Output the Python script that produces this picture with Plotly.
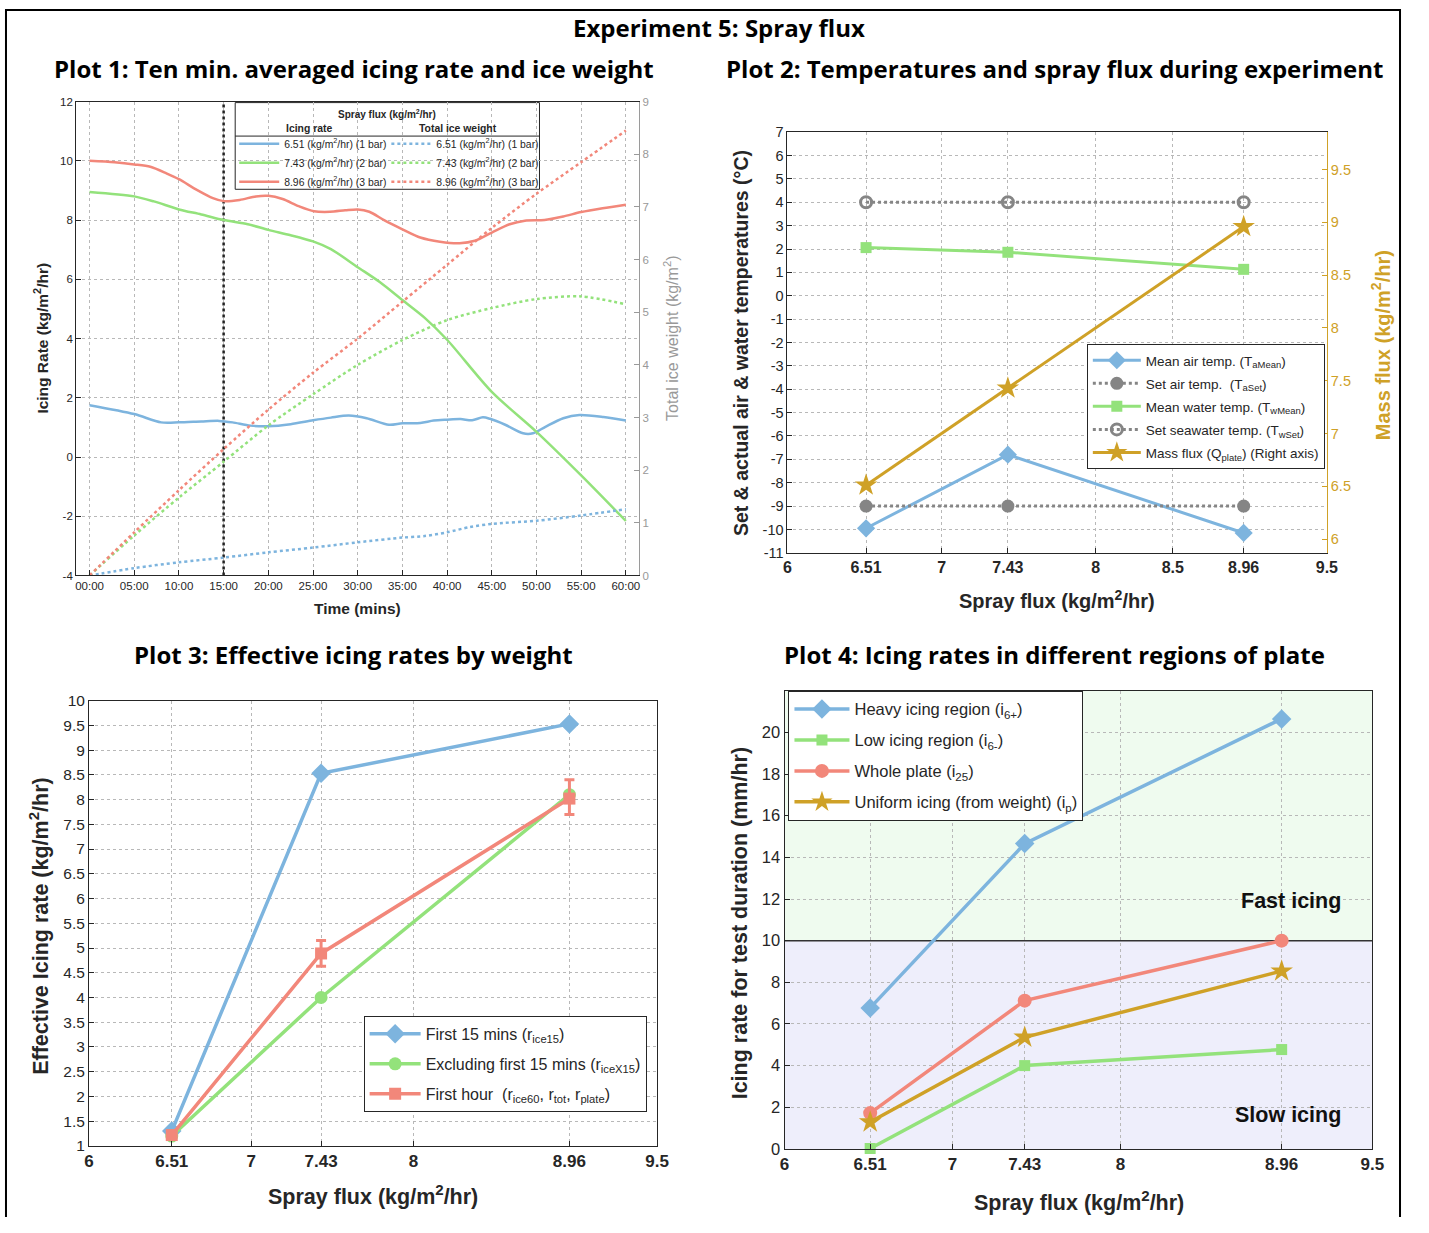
import plotly.graph_objects as go

# ---------------- DATA ----------------
# Plot 1: ten-minute averaged icing rate (kg/m2/hr) against time (min)
t_rate_651 = [0, 5, 8, 10, 12.5, 14.5, 16, 18, 20, 22.5, 25, 27, 29, 31, 33.5, 35, 37, 38.5, 40,
              41.5, 42.8, 44, 44.8, 46.5, 48.5, 49.6, 51, 53, 54.8, 57.5, 60]
rate_651 = [1.75, 1.45, 1.17, 1.17, 1.20, 1.22, 1.17, 1.06, 1.04, 1.11, 1.24, 1.33, 1.40, 1.31, 1.09,
            1.14, 1.15, 1.23, 1.26, 1.28, 1.24, 1.34, 1.29, 1.09, 0.80, 0.80, 1.02, 1.31, 1.42, 1.35, 1.23]
t_rate_743 = [0, 5, 7.2, 10, 12.5, 15, 17.7, 20, 22.5, 25, 27, 30, 32.5, 35, 37.5, 40, 45, 50, 55, 60]
rate_743 = [8.95, 8.8, 8.63, 8.36, 8.19, 8.0, 7.86, 7.67, 7.49, 7.28, 7.02, 6.41, 5.9, 5.3, 4.7, 3.96,
            2.2, 0.85, -0.62, -2.16]
t_rate_896 = [0, 2.8, 5, 6.8, 8.6, 10, 12, 13.8, 15, 16.8, 18.6, 20, 21.6, 23.4, 25.1, 26.9, 28.6, 30,
              31.3, 33, 35, 37, 39.2, 41.4, 43.1, 45, 47, 48.7, 50.9, 53, 55, 57.4, 60]
rate_896 = [10.0, 9.95, 9.88, 9.8, 9.58, 9.38, 9.02, 8.74, 8.64, 8.68, 8.8, 8.82, 8.71, 8.47, 8.3, 8.28,
            8.33, 8.36, 8.28, 7.99, 7.69, 7.41, 7.27, 7.22, 7.3, 7.58, 7.86, 7.98, 8.0, 8.12, 8.27, 8.4, 8.52]
# Plot 1: total ice weight (kg/m2)
t_weight_651 = [0, 5, 10, 15, 20, 25, 30, 35, 37.5, 40, 42.5, 45, 50, 55, 60]
weight_651 = [0, 0.14, 0.25, 0.34, 0.44, 0.53, 0.63, 0.72, 0.75, 0.82, 0.92, 0.98, 1.04, 1.14, 1.26]
t_weight = [0, 5, 10, 15, 20, 25, 30, 35, 40, 45, 50, 55, 60]
weight_743 = [0, 0.76, 1.48, 2.16, 2.85, 3.44, 4.0, 4.47, 4.85, 5.08, 5.25, 5.3, 5.15]
weight_896 = [0, 0.82, 1.62, 2.4, 3.15, 3.85, 4.5, 5.2, 5.9, 6.6, 7.25, 7.85, 8.45]
time_tickvals = [0, 5, 10, 15, 20, 25, 30, 35, 40, 45, 50, 55, 60]
time_ticktext = ['00:00', '05:00', '10:00', '15:00', '20:00', '25:00', '30:00',
                 '35:00', '40:00', '45:00', '50:00', '55:00', '60:00']
rate_tickvals = [-4, -2, 0, 2, 4, 6, 8, 10, 12]
marker_time = 15
series_labels = ['6.51 (kg/m<sup>2</sup>/hr) (1 bar)', '7.43 (kg/m<sup>2</sup>/hr) (2 bar)',
                 '8.96 (kg/m<sup>2</sup>/hr) (3 bar)']

# Spray flux categories (x for plots 2-4)
spray_flux = [6.51, 7.43, 8.96]
flux_ticks_p2 = [6, 6.51, 7, 7.43, 8, 8.5, 8.96, 9.5]
flux_ticks_p34 = [6, 6.51, 7, 7.43, 8, 8.96, 9.5]

# Plot 2: temperatures (degC) and mass flux (kg/m2/hr)
air_mean = [-9.95, -6.8, -10.15]
air_set = [-9, -9, -9]
water_mean = [2.06, 1.86, 1.13]
water_set = [4, 4, 4]
mass_flux = [6.51, 7.43, 8.96]
temp_tickvals = list(range(-11, 8))
massflux_tickvals = [6, 6.5, 7, 7.5, 8, 8.5, 9, 9.5]

# Plot 3: effective icing rates (kg/m2/hr)
r_ice15 = [1.3, 8.53, 9.53]
r_iceX15 = [1.2, 4.0, 8.1]
r_ice60 = [1.22, 4.89, 8.02]
r_ice60_err_plus = [0.05, 0.26, 0.38]
r_ice60_err_minus = [0.05, 0.26, 0.32]

# Plot 4: icing rates (mm/hr)
i_heavy = [6.77, 14.66, 20.65]
i_low = [0.02, 4.0, 4.77]
i_whole = [1.72, 7.12, 10.0]
i_uniform = [1.29, 5.36, 8.54]
icing_tickvals = [0, 2, 4, 6, 8, 10, 12, 14, 16, 18, 20]
fast_threshold = 10

# ---------------- STYLE ----------------
PAGE_W, PAGE_H, OFF = 1429, 1233, 8
W, H = PAGE_W - 2 * OFF, PAGE_H - 2 * OFF
BLUE = '#7DB4DE'
GREEN = '#93E27B'
RED = '#F2877A'
GOLD = '#CFA127'
GRAY = '#858585'
AX = '#262626'
GRID = '#b8b8b8'
FONT = 'Liberation Sans'
TFONT = 'Open Sans'


def px(x):
    return (x - OFF) / W


def py(y):
    return 1 - (y - OFF) / H


def hyph(vals):
    return [str(v) for v in vals]


fig = go.Figure()

# ---- Plot 1 ----
for t, r, c, lab in [(t_rate_651, rate_651, BLUE, series_labels[0]),
                     (t_rate_743, rate_743, GREEN, series_labels[1]),
                     (t_rate_896, rate_896, RED, series_labels[2])]:
    fig.add_trace(go.Scatter(x=t, y=r, xaxis='x', yaxis='y', mode='lines', name=lab,
                             line=dict(color=c, width=2.5, shape='spline', smoothing=0.8),
                             legend='legend'))
for t, w, c, lab in [(t_weight_651, weight_651, BLUE, series_labels[0]),
                     (t_weight, weight_743, GREEN, series_labels[1]),
                     (t_weight, weight_896, RED, series_labels[2])]:
    fig.add_trace(go.Scatter(x=t, y=w, xaxis='x', yaxis='y2', mode='lines', name=lab,
                             line=dict(color=c, width=2.5, dash='dot', shape='spline', smoothing=0.8),
                             legend='legend2'))

# ---- Plot 2 ----
fig.add_trace(go.Scatter(x=spray_flux, y=air_mean, xaxis='x2', yaxis='y3', mode='lines+markers',
                         name='Mean air temp. (T<sub>aMean</sub>)', cliponaxis=False,
                         line=dict(color=BLUE, width=3), marker=dict(symbol='diamond', size=14, color=BLUE),
                         legend='legend3', legendgroup='a'))
fig.add_trace(go.Scatter(x=spray_flux, y=air_set, xaxis='x2', yaxis='y3', mode='lines+markers',
                         name='Set air temp.  (T<sub>aSet</sub>)', cliponaxis=False,
                         line=dict(color=GRAY, width=3, dash='dot'), marker=dict(symbol='circle', size=13, color=GRAY),
                         legend='legend3', legendgroup='b'))
fig.add_trace(go.Scatter(x=spray_flux, y=water_mean, xaxis='x2', yaxis='y3', mode='lines+markers',
                         name='Mean water temp. (T<sub>wMean</sub>)', cliponaxis=False,
                         line=dict(color=GREEN, width=3), marker=dict(symbol='square', size=11, color=GREEN),
                         legend='legend3', legendgroup='c'))
fig.add_trace(go.Scatter(x=spray_flux, y=water_set, xaxis='x2', yaxis='y3', mode='lines+markers',
                         name='Set seawater temp. (T<sub>wSet</sub>)', cliponaxis=False,
                         line=dict(color=GRAY, width=3, dash='dot'),
                         marker=dict(symbol='circle-open', size=11, color=GRAY, line=dict(width=3)),
                         legend='legend3', legendgroup='d'))
fig.add_trace(go.Scatter(x=spray_flux, y=mass_flux, xaxis='x2', yaxis='y4', mode='lines+markers',
                         name='Mass flux (Q<sub>plate</sub>) (Right axis)', cliponaxis=False,
                         line=dict(color=GOLD, width=3), marker=dict(symbol='star', size=17, color=GOLD),
                         legend='legend3', legendgroup='e'))

# ---- Plot 3 ----
fig.add_trace(go.Scatter(x=spray_flux, y=r_ice15, xaxis='x3', yaxis='y5', mode='lines+markers',
                         name='First 15 mins (r<sub>ice15</sub>)', cliponaxis=False,
                         line=dict(color=BLUE, width=3.5), marker=dict(symbol='diamond', size=15, color=BLUE),
                         legend='legend4', legendgroup='f'))
fig.add_trace(go.Scatter(x=spray_flux, y=r_iceX15, xaxis='x3', yaxis='y5', mode='lines+markers',
                         name='Excluding first 15 mins (r<sub>iceX15</sub>)', cliponaxis=False,
                         line=dict(color=GREEN, width=3.5), marker=dict(symbol='circle', size=13, color=GREEN),
                         legend='legend4', legendgroup='g'))
fig.add_trace(go.Scatter(x=spray_flux, y=r_ice60, xaxis='x3', yaxis='y5', mode='lines+markers',
                         name='First hour  (r<sub>ice60</sub>, r<sub>tot</sub>, r<sub>plate</sub>)',
                         cliponaxis=False,
                         line=dict(color=RED, width=3.5), marker=dict(symbol='square', size=12, color=RED),
                         error_y=dict(type='data', symmetric=False, array=r_ice60_err_plus,
                                      arrayminus=r_ice60_err_minus, color=RED, thickness=3, width=5),
                         legend='legend4', legendgroup='h'))

# ---- Plot 4 ----
for y, c, sym, sz, lab, g in [
        (i_heavy, BLUE, 'diamond', 15, 'Heavy icing region (i<sub>6+</sub>)', 'i'),
        (i_low, GREEN, 'square', 11, 'Low icing region (i<sub>6-</sub>)', 'j'),
        (i_whole, RED, 'circle', 14, 'Whole plate (i<sub>25</sub>)', 'k'),
        (i_uniform, GOLD, 'star', 17, 'Uniform icing (from weight) (i<sub>p</sub>)', 'l')]:
    fig.add_trace(go.Scatter(x=spray_flux, y=y, xaxis='x4', yaxis='y6', mode='lines+markers', name=lab,
                             cliponaxis=False,
                             line=dict(color=c, width=3.5), marker=dict(symbol=sym, size=sz, color=c),
                             legend='legend5', legendgroup=g))


# ---------------- AXES ----------------
def axis(domain, anchor, rng, **kw):
    d = dict(domain=domain, anchor=anchor, range=rng, showline=True, linecolor=AX, linewidth=1,
             ticks='inside', ticklen=5, tickcolor=AX, showgrid=True, gridcolor=GRID, griddash='dot',
             gridwidth=1, zeroline=False, tickfont=dict(family=FONT, size=13, color=AX))
    d.update(kw)
    return d


xd1 = [px(80), px(650)]
yd1 = [py(583), py(102)]
xd2 = [px(800), px(1346)]
yd2 = [py(560), py(133)]
xd3 = [px(93), px(668)]
yd3 = [py(1162), py(710)]
xd4 = [px(797), px(1392)]
yd4 = [py(1165), py(700)]

layout = dict(
    width=W, height=H, margin=dict(l=0, r=0, t=0, b=0),
    paper_bgcolor='white', plot_bgcolor='white',
    font=dict(family=FONT, color=AX),
    xaxis=axis(xd1, 'y', [-1.5, 61.5], tickvals=time_tickvals, ticktext=time_ticktext, mirror=True,
               tickfont=dict(family=FONT, size=11.5, color=AX)),
    yaxis=axis(yd1, 'x', [-4, 12], tickvals=rate_tickvals, ticktext=hyph(rate_tickvals),
               tickfont=dict(family=FONT, size=11.5, color=AX)),
    yaxis2=dict(overlaying='y', anchor='x', side='right', range=[0, 9], dtick=1, showgrid=False,
                zeroline=False, showline=True, linecolor='#9a9a9a', ticks='inside', ticklen=5,
                tickcolor='#9a9a9a', tickfont=dict(family=FONT, size=11.5, color='#999999')),
    xaxis2=axis(xd2, 'y3', [6, 9.5], tickvals=flux_ticks_p2, mirror=True,
                tickfont=dict(family=FONT, size=16, color=AX, weight='bold')),
    yaxis3=axis(yd2, 'x2', [-11, 7], tickvals=temp_tickvals, ticktext=hyph(temp_tickvals),
                tickfont=dict(family=FONT, size=14.5, color=AX)),
    yaxis4=dict(overlaying='y3', anchor='x2', side='right', range=[5.869, 9.855],
                tickvals=massflux_tickvals, showgrid=False, zeroline=False, showline=True,
                linecolor=GOLD, ticks='inside', ticklen=5, tickcolor=GOLD,
                tickfont=dict(family=FONT, size=14.5, color=GOLD)),
    xaxis3=axis(xd3, 'y5', [6, 9.5], tickvals=flux_ticks_p34, mirror=True,
                tickfont=dict(family=FONT, size=17, color=AX, weight='bold')),
    yaxis5=axis(yd3, 'x3', [1, 10], dtick=0.5, mirror=True, tickfont=dict(family=FONT, size=15.5, color=AX)),
    xaxis4=axis(xd4, 'y6', [6, 9.5], tickvals=flux_ticks_p34, mirror=True,
                tickfont=dict(family=FONT, size=17, color=AX, weight='bold')),
    yaxis6=axis(yd4, 'x4', [0, 22], tickvals=icing_tickvals, mirror=True,
                tickfont=dict(family=FONT, size=16.5, color=AX)),
    showlegend=True,
)


def leg(x, y, size, gap, iw, border=True):
    return dict(x=px(x), y=py(y), xanchor='left', yanchor='top',
                bgcolor='white' if border else 'rgba(0,0,0,0)',
                bordercolor=AX, borderwidth=1 if border else 0,
                font=dict(family=FONT, size=size, color=AX), itemwidth=iw,
                traceorder='grouped', tracegroupgap=gap)


layout['legend'] = leg(240, 130, 10.4, 0, 40, border=False)
layout['legend2'] = leg(394, 130, 10.4, 0, 40, border=False)
layout['legend3'] = leg(1103, 348, 13.5, 2.5, 48)
layout['legend4'] = leg(371, 1030, 16, 6.2, 51)
layout['legend5'] = leg(801, 700, 16.5, 6.5, 55)

fig.update_layout(**layout)

# ---------------- SHAPES ----------------
shapes = [
    # outer frame
    dict(type='rect', xref='paper', yref='paper', x0=px(9), x1=(W - 1) / W, y0=-0.02, y1=py(9),
         line=dict(color='black', width=2), fillcolor='rgba(0,0,0,0)', layer='above'),
    # plot 1 legend box
    dict(type='rect', xref='paper', yref='paper', x0=px(241), x1=px(549), y0=py(191), y1=py(103),
         line=dict(color=AX, width=1), fillcolor='white', layer='between'),
    dict(type='line', xref='paper', yref='paper', x0=px(241), x1=px(549), y0=py(137), y1=py(137),
         line=dict(color=AX, width=1), layer='between'),
    # 15 minute marker
    dict(type='line', xref='x', yref='y', x0=marker_time, x1=marker_time, y0=-4, y1=12,
         line=dict(color='#222222', width=2.5, dash='dot'), layer='between'),
    # plot 4 backgrounds
    dict(type='rect', xref='x4', yref='y6', x0=6, x1=9.5, y0=fast_threshold, y1=22,
         fillcolor='#EFFBEF', line=dict(width=0), layer='below'),
    dict(type='rect', xref='x4', yref='y6', x0=6, x1=9.5, y0=0, y1=fast_threshold,
         fillcolor='#EEEEFB', line=dict(width=0), layer='below'),
    dict(type='line', xref='x4', yref='y6', x0=6, x1=9.5, y0=fast_threshold, y1=fast_threshold,
         line=dict(color='#333333', width=1.5), layer='between'),
]
fig.update_layout(shapes=shapes)


# ---------------- TEXT ----------------
def ann(text, x, y, size, color=AX, angle=0, family=FONT, bold=True):
    return dict(text=('<b>%s</b>' % text) if bold else text, x=px(x), y=py(y), xref='paper', yref='paper',
                xanchor='center', yanchor='middle', showarrow=False, textangle=angle,
                font=dict(family=family, size=size, color=color))


anns = [
    ann('Experiment 5: Spray flux', 731, 27, 24, color='black', family=TFONT),
    ann('Plot 1: Ten min. averaged icing rate and ice weight', 361, 68, 24, color='black', family=TFONT),
    ann('Plot 2: Temperatures and spray flux during experiment', 1070, 68, 24, color='black', family=TFONT),
    ann('Plot 3: Effective icing rates by weight', 361, 663, 24, color='black', family=TFONT),
    ann('Plot 4: Icing rates in different regions of plate', 1070, 663, 24, color='black', family=TFONT),
    # plot 1
    ann('Icing Rate (kg/m<sup>2</sup>/hr)', 45, 342, 15.5, angle=-90),
    ann('Total ice weight (kg/m<sup>2</sup>)', 682, 342, 16, color='#999999', angle=-90, bold=False),
    ann('Time (mins)', 365, 617, 15.5),
    ann('Spray flux (kg/m<sup>2</sup>/hr)', 395, 115, 10),
    ann('Icing rate', 316, 129, 10.4),
    ann('Total ice weight', 467, 129, 10.4),
    # plot 2
    ann('Set &amp; actual air &amp; water temperatures (°C)', 753, 347, 19.5, angle=-90),
    ann('Mass flux (kg/m<sup>2</sup>/hr)', 1401, 349, 20, color=GOLD, angle=-90),
    ann('Spray flux (kg/m<sup>2</sup>/hr)', 1073, 607, 20),
    # plot 3
    ann('Effective Icing rate (kg/m<sup>2</sup>/hr)', 43, 939, 21.5, angle=-90),
    ann('Spray flux (kg/m<sup>2</sup>/hr)', 380, 1212, 21.5),
    # plot 4
    ann('Icing rate for test duration (mm/hr)', 752, 936, 21.5, angle=-90),
    ann('Spray flux (kg/m<sup>2</sup>/hr)', 1095, 1218, 21.5),
    ann('Fast icing', 1310, 913, 21.5, color='#111111'),
    ann('Slow icing', 1307, 1131, 21.5, color='#111111'),
]
fig.update_layout(annotations=anns)

fig.write_html('out.html')
